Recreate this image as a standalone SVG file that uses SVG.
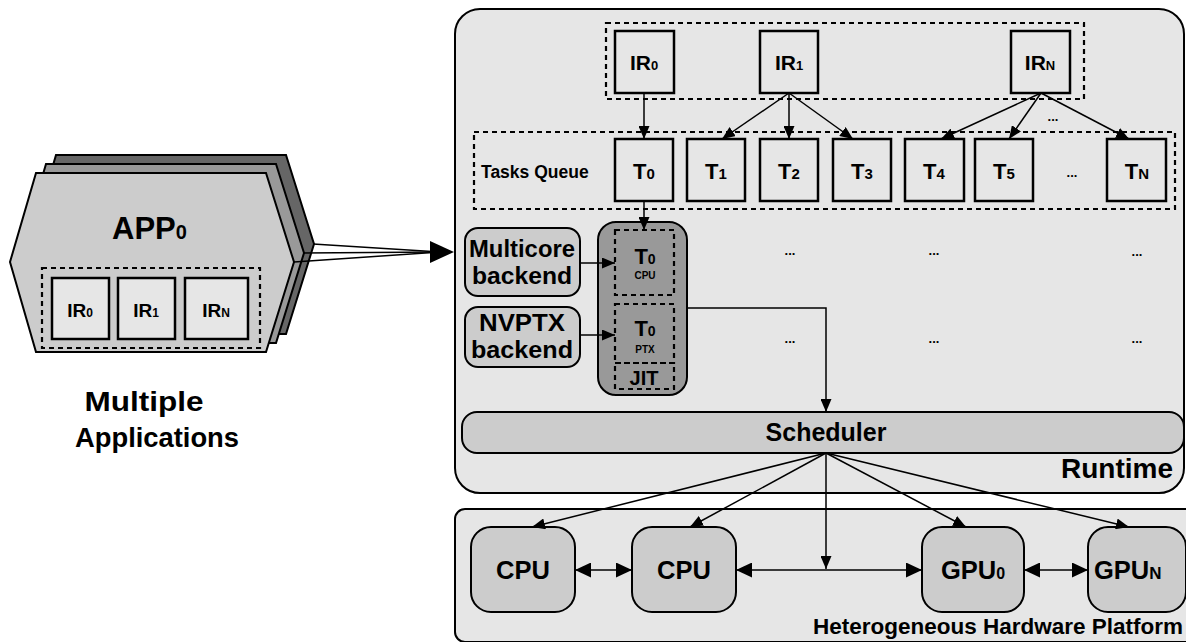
<svg xmlns="http://www.w3.org/2000/svg" width="1186" height="642" viewBox="0 0 1186 642">
<style>
text{font-family:"Liberation Sans",Arial,sans-serif;font-weight:bold;fill:#000}
.box{fill:#e6e6e6;stroke:#000;stroke-width:2.5}
.dash{fill:none;stroke:#000;stroke-width:2.2;stroke-dasharray:5,4}
.gray{fill:#cccccc;stroke:#000;stroke-width:2}
.ln{fill:none;stroke:#000;stroke-width:1.5}
.c{text-anchor:middle}
.dots{font-size:13px;text-anchor:middle}
.t{font-size:22px;text-anchor:middle}
.hw{font-size:25.5px}
</style>
<defs>
<marker id="ah" viewBox="0 0 13 11" refX="13" refY="5.5" markerWidth="13" markerHeight="11" markerUnits="userSpaceOnUse" orient="auto-start-reverse"><path d="M0,0L13,5.5L0,11z" fill="#000"/></marker>
<marker id="ah2" viewBox="0 0 16 15" refX="16" refY="7.5" markerWidth="16" markerHeight="15" markerUnits="userSpaceOnUse" orient="auto-start-reverse"><path d="M0,0L16,7.5L0,15z" fill="#000"/></marker>
</defs>
<rect width="1186" height="642" fill="#fff"/>

<g id="apps">
<polygon points="30,244 56,155 286,155 314,244 286,334 56,334" fill="#666" stroke="#000" stroke-width="2"/>
<polygon points="20,253 46,164 276,164 304,253 276,343 46,343" fill="#999" stroke="#000" stroke-width="2"/>
<polygon points="10,262 36,173 266,173 294,262 266,352 36,352" fill="#cccccc" stroke="#000" stroke-width="2"/>
<text x="112" y="239" font-size="31">APP<tspan font-size="20">0</tspan></text>
<rect x="42" y="268" width="218" height="80" class="dash"/>
<rect x="52" y="278" width="57" height="61" class="box"/>
<text x="80" y="317" font-size="19" class="c">IR<tspan font-size="12">0</tspan></text>
<rect x="118" y="278" width="57" height="61" class="box"/>
<text x="146" y="317" font-size="19" class="c">IR<tspan font-size="12">1</tspan></text>
<rect x="185" y="278" width="63" height="61" class="box"/>
<text x="216" y="317" font-size="19" class="c">IR<tspan font-size="12">N</tspan></text>
</g>
<g id="apps-label">
<text x="144" y="411" font-size="28" class="c" textLength="119" lengthAdjust="spacingAndGlyphs">Multiple</text>
<text x="157" y="447" font-size="28" class="c" textLength="164" lengthAdjust="spacingAndGlyphs">Applications</text>
</g>

<g id="runtime">
<rect x="455" y="9" width="729" height="484" rx="25" fill="#e6e6e6" stroke="#000" stroke-width="2"/>
<text x="1173" y="478" font-size="28" text-anchor="end">Runtime</text>
</g>

<g id="ir-group">
<rect x="606" y="23" width="478" height="76" class="dash"/>
<rect x="615" y="31" width="59" height="62" class="box"/>
<text x="644" y="70" font-size="21" class="c">IR<tspan font-size="13">0</tspan></text>
<rect x="760" y="31" width="58" height="62" class="box"/>
<text x="789" y="70" font-size="21" class="c">IR<tspan font-size="13">1</tspan></text>
<rect x="1011" y="31" width="59" height="62" class="box"/>
<text x="1040" y="70" font-size="21" class="c">IR<tspan font-size="13">N</tspan></text>
<text x="1053" y="121" class="dots">...</text>
</g>

<g id="tasks-queue">
<rect x="474" y="132" width="701" height="77" class="dash"/>
<text x="481" y="178" font-size="17.5">Tasks Queue</text>
<rect x="615" y="139" width="58" height="62" class="box"/>
<text x="644" y="179" class="t">T<tspan font-size="15">0</tspan></text>
<rect x="687" y="139" width="58" height="62" class="box"/>
<text x="716" y="179" class="t">T<tspan font-size="15">1</tspan></text>
<rect x="760" y="139" width="58" height="62" class="box"/>
<text x="789" y="179" class="t">T<tspan font-size="15">2</tspan></text>
<rect x="833" y="139" width="58" height="62" class="box"/>
<text x="862" y="179" class="t">T<tspan font-size="15">3</tspan></text>
<rect x="905" y="139" width="59" height="62" class="box"/>
<text x="934" y="179" class="t">T<tspan font-size="15">4</tspan></text>
<rect x="975" y="139" width="58" height="62" class="box"/>
<text x="1004" y="179" class="t">T<tspan font-size="15">5</tspan></text>
<text x="1072" y="177" class="dots">...</text>
<rect x="1107" y="139" width="59" height="62" class="box"/>
<text x="1137" y="179" class="t">T<tspan font-size="15">N</tspan></text>
</g>

<g id="multicore-backend">
<rect x="465" y="228" width="115" height="68" rx="13" class="gray"/>
<text x="522" y="257" font-size="24" class="c" textLength="106" lengthAdjust="spacingAndGlyphs">Multicore</text>
<text x="522" y="284" font-size="24" class="c" textLength="100" lengthAdjust="spacingAndGlyphs">backend</text>
</g>
<g id="nvptx-backend">
<rect x="465" y="307" width="115" height="60" rx="13" class="gray"/>
<text x="522" y="331" font-size="24" class="c" textLength="86" lengthAdjust="spacingAndGlyphs">NVPTX</text>
<text x="522" y="358" font-size="24" class="c" textLength="102" lengthAdjust="spacingAndGlyphs">backend</text>
</g>

<g id="t0-variants">
<rect x="598" y="222" width="89" height="173" rx="18" fill="#999" stroke="#000" stroke-width="2"/>
<rect x="615" y="230" width="59" height="65" fill="#e6e6e6" class="dash"/>
<text x="645" y="264" class="t">T<tspan font-size="14">0</tspan></text>
<text x="645" y="279" font-size="10" class="c">CPU</text>
<rect x="615" y="304" width="59" height="59" fill="#e6e6e6" class="dash"/>
<text x="645" y="336" class="t">T<tspan font-size="14">0</tspan></text>
<text x="645" y="353" font-size="10" class="c">PTX</text>
<rect x="615" y="363" width="59" height="26" fill="#e6e6e6" class="dash"/>
<text x="644" y="385" font-size="20" class="c">JIT</text>
</g>

<g id="placeholders">
<text x="790" y="255" class="dots">...</text>
<text x="934" y="255" class="dots">...</text>
<text x="1137" y="256" class="dots">...</text>
<text x="790" y="343" class="dots">...</text>
<text x="934" y="343" class="dots">...</text>
<text x="1137" y="343" class="dots">...</text>
</g>

<g id="scheduler">
<rect x="462" y="412" width="722" height="41" rx="15" class="gray"/>
<text x="826" y="441" font-size="25" class="c">Scheduler</text>
</g>

<g id="hardware">
<rect x="455" y="509" width="740" height="133" rx="10" fill="#e6e6e6" stroke="#000" stroke-width="2"/>
<text x="1183" y="634" font-size="22.5" text-anchor="end">Heterogeneous Hardware Platform</text>
</g>
<g id="cpu1">
<rect x="471" y="527" width="104" height="85" rx="20" class="gray"/>
<text x="523" y="579" class="hw c">CPU</text>
</g>
<g id="cpu2">
<rect x="632" y="527" width="104" height="85" rx="20" class="gray"/>
<text x="684" y="579" class="hw c">CPU</text>
</g>
<g id="gpu0">
<rect x="922" y="527" width="102" height="85" rx="20" class="gray"/>
<text x="941" y="579" class="hw">GPU<tspan font-size="16">0</tspan></text>
</g>
<g id="gpuN">
<rect x="1088" y="527" width="98" height="85" rx="20" class="gray"/>
<text x="1094" y="579" class="hw">GPU<tspan font-size="17">N</tspan></text>
</g>

<g id="connectors">
<polyline points="313,244 440,252" class="ln" stroke-width="2"/>
<polyline points="303,253 440,252" class="ln" stroke-width="2"/>
<polyline points="294,262 440,252" class="ln" stroke-width="2"/>
<polygon points="430,241 454,252 430,263" fill="#000"/>

<line x1="644" y1="93" x2="644" y2="139" class="ln" marker-end="url(#ah)"/>
<line x1="789" y1="93" x2="722" y2="139" class="ln" marker-end="url(#ah)"/>
<line x1="789" y1="93" x2="789" y2="139" class="ln" marker-end="url(#ah)"/>
<line x1="789" y1="93" x2="853" y2="139" class="ln" marker-end="url(#ah)"/>
<line x1="1041" y1="93" x2="941" y2="139" class="ln" marker-end="url(#ah)"/>
<line x1="1041" y1="93" x2="1009" y2="139" class="ln" marker-end="url(#ah)"/>
<line x1="1041" y1="93" x2="1129" y2="139" class="ln" marker-end="url(#ah)"/>

<line x1="644" y1="201" x2="644" y2="230" class="ln" marker-end="url(#ah)"/>
<line x1="580" y1="263" x2="615" y2="263" class="ln" marker-end="url(#ah)"/>
<line x1="580" y1="335" x2="615" y2="335" class="ln" marker-end="url(#ah)"/>
<polyline points="687,308 826,308 826,412" class="ln" marker-end="url(#ah)"/>

<line x1="826" y1="453" x2="532" y2="527" class="ln" marker-end="url(#ah)"/>
<line x1="826" y1="453" x2="690" y2="527" class="ln" marker-end="url(#ah)"/>
<line x1="826" y1="453" x2="826" y2="569" class="ln" marker-end="url(#ah)"/>
<line x1="826" y1="453" x2="966" y2="527" class="ln" marker-end="url(#ah)"/>
<line x1="826" y1="453" x2="1129" y2="527" class="ln" marker-end="url(#ah)"/>

<line x1="575" y1="570" x2="632" y2="570" class="ln" stroke-width="2" marker-start="url(#ah2)" marker-end="url(#ah2)"/>
<line x1="736" y1="570" x2="922" y2="570" class="ln" stroke-width="2" marker-start="url(#ah2)" marker-end="url(#ah2)"/>
<line x1="1024" y1="570" x2="1088" y2="570" class="ln" stroke-width="2" marker-start="url(#ah2)" marker-end="url(#ah2)"/>
</g>
</svg>
